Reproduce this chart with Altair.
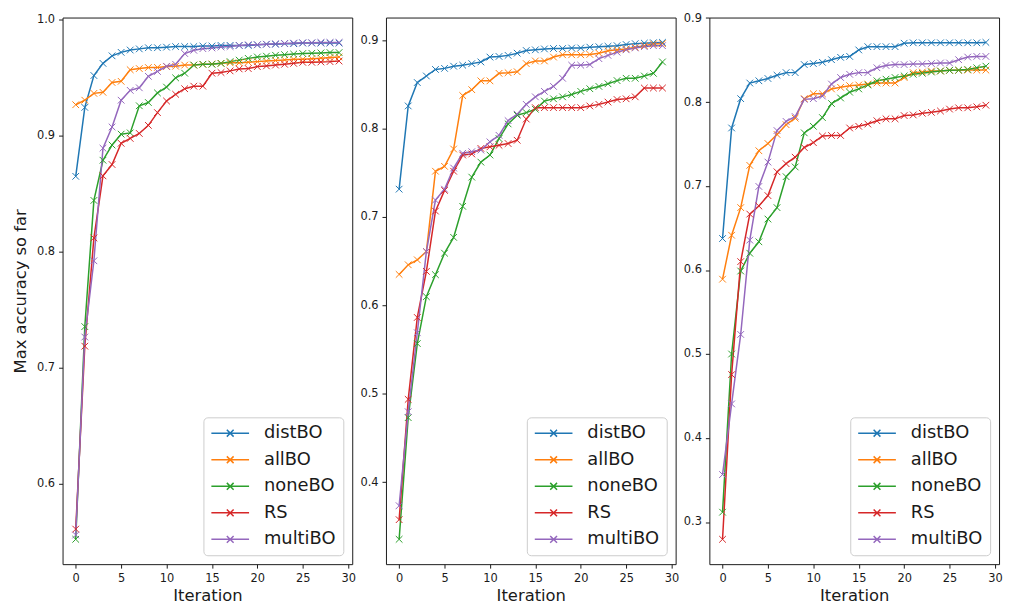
import altair as alt
import pandas as pd

iterations = list(range(30))
methods = ["distBO", "allBO", "noneBO", "RS", "multiBO"]
colors = ["#1f77b4", "#ff7f0e", "#2ca02c", "#d62728", "#9467bd"]

x_ticks = [0, 5, 10, 15, 20, 25, 30]
p1_yticks = [0.6, 0.7, 0.8, 0.9, 1.0]
p2_yticks = [0.4, 0.5, 0.6, 0.7, 0.8, 0.9]
p3_yticks = [0.3, 0.4, 0.5, 0.6, 0.7, 0.8, 0.9]

# ---- panel 1 ----
p1_distBO = [0.865, 0.9245, 0.952, 0.9625, 0.969, 0.972, 0.974, 0.975, 0.976, 0.976,
             0.9765, 0.977, 0.977, 0.977, 0.9775, 0.9775, 0.978, 0.978, 0.978, 0.978,
             0.9785, 0.979, 0.979, 0.9795, 0.9795, 0.98, 0.98, 0.98, 0.98, 0.98]
p1_allBO = [0.9268, 0.9307, 0.9366, 0.9375, 0.946, 0.947, 0.957, 0.958, 0.9589, 0.959,
            0.9597, 0.960, 0.961, 0.961, 0.9617, 0.962, 0.9625, 0.963, 0.963, 0.9635,
            0.964, 0.9645, 0.965, 0.9655, 0.966, 0.966, 0.9665, 0.967, 0.9675, 0.968]
p1_noneBO = [0.5517, 0.7353, 0.8442, 0.8789, 0.892, 0.9014, 0.9025, 0.9259, 0.9287, 0.937,
             0.942, 0.950, 0.954, 0.961, 0.9617, 0.9617, 0.9625, 0.964, 0.9653, 0.9668,
             0.968, 0.9687, 0.9695, 0.970, 0.9705, 0.971, 0.9712, 0.9715, 0.9718, 0.9718]
p1_RS = [0.5605, 0.7184, 0.8118, 0.8654, 0.8752, 0.8935, 0.8977, 0.902, 0.909, 0.920,
         0.930, 0.9358, 0.9406, 0.9428, 0.9428, 0.954, 0.9546, 0.956, 0.9577, 0.958,
         0.9597, 0.9603, 0.961, 0.9617, 0.9625, 0.9634, 0.9634, 0.9637, 0.964, 0.9645]
p1_multiBO = [0.5554, 0.7263, 0.7921, 0.8893, 0.9076, 0.9307, 0.9392, 0.9414, 0.9513, 0.9555,
              0.960, 0.9617, 0.971, 0.9738, 0.9752, 0.9758, 0.9766, 0.977, 0.978, 0.9786,
              0.9786, 0.979, 0.9794, 0.9797, 0.98, 0.9803, 0.9803, 0.9806, 0.9806, 0.9806]

# ---- panel 2 ----
p2_distBO = [0.7314, 0.8255, 0.852, 0.8594, 0.8668, 0.868, 0.8705, 0.8716, 0.8734, 0.8753,
             0.8808, 0.8815, 0.8827, 0.8852, 0.8882, 0.889, 0.890, 0.8905, 0.8905, 0.891,
             0.8911, 0.892, 0.8925, 0.893, 0.8937, 0.895, 0.896, 0.8965, 0.897, 0.8974]
p2_allBO = [0.635, 0.6459, 0.6515, 0.6608, 0.7517, 0.7572, 0.7768, 0.8373, 0.8439, 0.8539,
            0.8539, 0.8624, 0.8631, 0.8642, 0.8734, 0.8764, 0.8764, 0.8808, 0.8834, 0.8834,
            0.8834, 0.8838, 0.8852, 0.888, 0.889, 0.890, 0.8919, 0.8937, 0.8956, 0.896]
p2_noneBO = [0.3354, 0.473, 0.5568, 0.6098, 0.6347, 0.659, 0.6769, 0.712, 0.745, 0.762,
             0.770, 0.7886, 0.8052, 0.8151, 0.818, 0.8218, 0.831, 0.8336, 0.8358, 0.8384,
             0.842, 0.845, 0.8476, 0.8506, 0.8542, 0.8568, 0.8568, 0.8594, 0.8624, 0.8753]
p2_RS = [0.3576, 0.4937, 0.5863, 0.6384, 0.7066, 0.730, 0.7517, 0.770, 0.7712, 0.7775,
         0.7793, 0.781, 0.783, 0.7867, 0.8107, 0.8236, 0.8236, 0.8236, 0.8236, 0.8236,
         0.8236, 0.8255, 0.8273, 0.8299, 0.8328, 0.8336, 0.8358, 0.8458, 0.8458, 0.8458]
p2_multiBO = [0.3734, 0.4797, 0.569, 0.6608, 0.719, 0.7314, 0.7553, 0.772, 0.7738, 0.7756,
              0.7849, 0.7923, 0.8089, 0.8162, 0.8273, 0.8358, 0.842, 0.8476, 0.8568, 0.8716,
              0.8716, 0.8723, 0.879, 0.8827, 0.8863, 0.889, 0.8911, 0.8926, 0.8937, 0.8937]

# ---- panel 3 ----
p3_distBO = [0.6375, 0.7691, 0.804, 0.8226, 0.8253, 0.828, 0.8319, 0.835, 0.835, 0.8446,
             0.8458, 0.8473, 0.8504, 0.8532, 0.8543, 0.862, 0.8659, 0.8659, 0.8659, 0.8659,
             0.870, 0.8705, 0.8705, 0.8705, 0.8705, 0.8705, 0.8705, 0.8705, 0.8705, 0.871]
p3_allBO = [0.5891, 0.6414, 0.6743, 0.7246, 0.742, 0.7506, 0.7614, 0.773, 0.7808, 0.804,
            0.8098, 0.8098, 0.8156, 0.8175, 0.8195, 0.8203, 0.8214, 0.8226, 0.8226, 0.8226,
            0.8292, 0.835, 0.8357, 0.8369, 0.8369, 0.8377, 0.8377, 0.838, 0.838, 0.838]
p3_noneBO = [0.3117, 0.500, 0.5988, 0.620, 0.6336, 0.6607, 0.6743, 0.7111, 0.7227, 0.7633,
             0.7711, 0.7815, 0.7982, 0.8048, 0.8117, 0.8156, 0.8203, 0.8253, 0.8272, 0.8292,
             0.8311, 0.833, 0.8342, 0.8357, 0.8369, 0.8377, 0.838, 0.8388, 0.8408, 0.8427]
p3_RS = [0.2794, 0.4755, 0.610, 0.6666, 0.6762, 0.6886, 0.7169, 0.7266, 0.7343, 0.7459,
         0.7517, 0.7595, 0.7602, 0.7602, 0.7691, 0.7711, 0.7738, 0.7777, 0.780, 0.780,
         0.7839, 0.7846, 0.7866, 0.7877, 0.7893, 0.7916, 0.7931, 0.7931, 0.7943, 0.7962]
p3_multiBO = [0.3565, 0.4406, 0.5233, 0.6356, 0.6995, 0.7285, 0.766, 0.7769, 0.7827, 0.8032,
              0.804, 0.8071, 0.8214, 0.8292, 0.833, 0.835, 0.835, 0.8408, 0.8435, 0.8446,
              0.8446, 0.8454, 0.8454, 0.8458, 0.8465, 0.8465, 0.8504, 0.8535, 0.8543, 0.8543]

FONT = "DejaVu Sans"
TXT = "#1a1a1a"
X_SHAPE = "M-1,-1L1,1M-1,1L1,-1"
LEG_SHAPE = "M-1,0L1,0M-0.18,-0.18L0.18,0.18M-0.18,0.18L0.18,-0.18"


def frame(series):
    rows = []
    for m, vals in zip(methods, series):
        for i, v in zip(iterations, vals):
            rows.append({"Iteration": i, "method": m, "acc": v})
    return pd.DataFrame(rows)


def panel(series, yticks, ytitle):
    df = frame(series)
    lo = min(min(s) for s in series)
    hi = max(max(s) for s in series)
    m = 0.05 * (hi - lo)
    ykw = {"title": ytitle} if ytitle else {"title": None}
    legend = alt.Legend(
        title=None, orient="bottom-right", offset=9,
        symbolType=LEG_SHAPE, symbolSize=1444, symbolStrokeWidth=1.5,
        labelFont=FONT, labelFontSize=18, labelColor=TXT,
        labelOffset=14, rowPadding=8.75, clipHeight=18, padding=7,
        fillColor="rgba(255,255,255,0.8)", strokeColor="#cccccc", cornerRadius=4,
    )
    return alt.Chart(df).mark_line(
        strokeWidth=1.5,
        point=alt.OverlayMarkDef(shape=X_SHAPE, filled=False, size=45, strokeWidth=1.0),
    ).encode(
        x=alt.X("Iteration:Q", title="Iteration",
                scale=alt.Scale(domain=[-1.45, 30.45], nice=False, zero=False),
                axis=alt.Axis(values=x_ticks, format="d")),
        y=alt.Y("acc:Q",
                scale=alt.Scale(domain=[lo - m, hi + m], nice=False, zero=False),
                axis=alt.Axis(values=yticks, format=".1f"), **ykw),
        color=alt.Color("method:N", scale=alt.Scale(domain=methods, range=colors),
                        sort=methods, legend=legend),
        detail="method:N",
    ).properties(width=292, height=551)


p1 = panel([p1_distBO, p1_allBO, p1_noneBO, p1_RS, p1_multiBO], p1_yticks, "Max accuracy so far")
p2 = panel([p2_distBO, p2_allBO, p2_noneBO, p2_RS, p2_multiBO], p2_yticks, None)
p3 = panel([p3_distBO, p3_allBO, p3_noneBO, p3_RS, p3_multiBO], p3_yticks, None)

chart = alt.hconcat(p1, p2, p3, spacing=34, bounds="flush").resolve_scale(
    color="independent", y="independent", x="independent"
).resolve_legend(color="independent").properties(
    autosize=alt.AutoSizeParams(type="none"),
    padding={"left": 55, "top": 5, "right": 950, "bottom": 596},
).configure_view(
    stroke="#1a1a1a", strokeWidth=1
).configure_axis(
    grid=False, domain=False, ticks=True, tickSize=4, tickColor=TXT, tickWidth=1,
    labelFont=FONT, labelFontSize=11.5, labelColor=TXT, labelPadding=4,
    titleFont=FONT, titleFontSize=16.5, titleFontWeight="normal", titleColor=TXT,
).configure_axisX(titlePadding=4).configure_axisY(titlePadding=8)

chart.save("out.html", embed_options={"renderer": "svg", "actions": False})
